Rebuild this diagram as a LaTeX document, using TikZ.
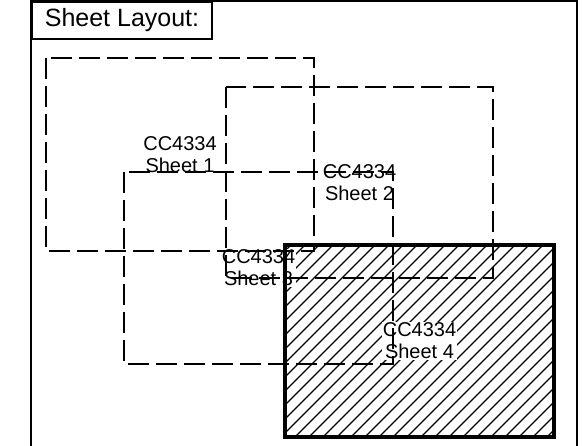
\documentclass[tikz,border=0pt]{standalone}
\usepackage{fontspec}
\setmainfont{Liberation Sans}
\usetikzlibrary{calc}

\begin{document}
\begin{tikzpicture}[x=1pt, y=-1pt,
	   frame/.style={line width=2pt},
	   sheet/.style={line width=2pt, dash pattern=on 21pt off 7pt},
	   active/.style={line width=4pt},
	   hatch/.style={line width=1.3pt},
	   lbl/.style={fill=white, inner sep=0.5pt, align=center, font=\fontsize{20}{22}\selectfont}]
	  \useasboundingbox (0,0) rectangle (582,446);
	  % sheet corners
	  \coordinate (s1a) at (46,58);   \coordinate (s1b) at (314,251);
	  \coordinate (s2a) at (226,87);  \coordinate (s2b) at (493,278);
	  \coordinate (s3a) at (124,172); \coordinate (s3b) at (393,364);
	  \coordinate (s4a) at (285,245); \coordinate (s4b) at (554,437);
	  % outer frame and title
	  \draw[frame] (31,446) -- (31,1) -- (577,1) -- (577,446);
	  \node[draw, frame, anchor=north west, minimum width=180pt, minimum height=37pt, inner sep=0pt,
	        font=\fontsize{25}{30}\selectfont] (T) at (31,1) {Sheet Layout:};
	  % hatching of sheet 4
	  \begin{scope}
	    \clip (s4a) rectangle (s4b);
	    \foreach \x in {82,96,...,570} \draw[hatch] (\x,440) -- ++(200,-200);
	  \end{scope}
	  \node[lbl] (L1) at ($(s1a)!.5!(s1b)$) {CC4334\\Sheet 1};
	  \node[lbl] (L2) at ($(s2a)!.5!(s2b)$) {CC4334\\Sheet 2};
	  \node[lbl] (L3) at ($(s3a)!.5!(s3b)$) {CC4334\\Sheet 3};
	  \node[lbl] (L4) at ($(s4a)!.5!(s4b)$) {CC4334\\Sheet 4};
	  \draw[sheet] (s1a) rectangle (s1b);
	  \draw[sheet] (s2a) rectangle (s2b);
	  \draw[sheet] (s3a) rectangle (s3b);
	  \draw[active] (s4a) rectangle (s4b);
	\end{tikzpicture}
\end{document}
